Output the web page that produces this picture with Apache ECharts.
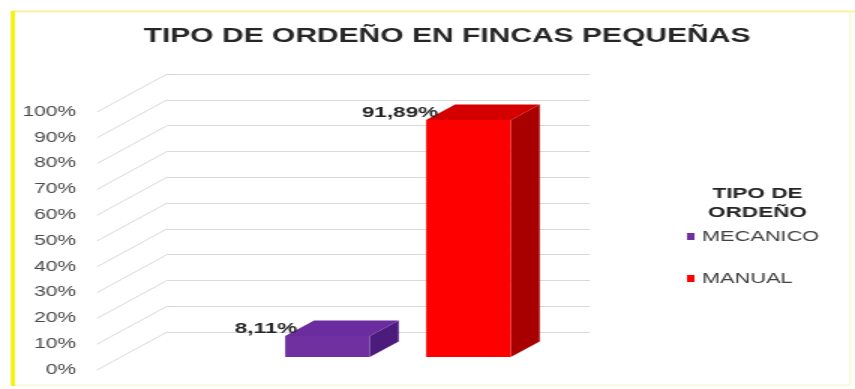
<!DOCTYPE html>
<html>
<head>
<meta charset="utf-8">
<script src="https://cdn.jsdelivr.net/npm/echarts@6/dist/echarts.min.js"></script>
<style>
  html, body { margin: 0; padding: 0; background: #ffffff; overflow: hidden; }
  #wrap { width: 855px; height: 389px; overflow: hidden; }
  #chart { width: 570px; height: 389px; transform: scaleX(1.5); transform-origin: 0 0; }
</style>
</head>
<body>
<div id="wrap"><div id="chart"></div></div>
<script>
// ---- data ----
const categories = ['MECANICO', 'MANUAL'];
const values = [8.11, 91.89];
const yTicks = [0, 10, 20, 30, 40, 50, 60, 70, 80, 90, 100];
const chartTitle = 'TIPO DE ORDEÑO EN FINCAS PEQUEÑAS';
const legendTitle = 'TIPO DE\nORDEÑO';

// ---- styles ----
const FONT = '"Liberation Sans", Arial, sans-serif';
const palette = {
  MECANICO: { front: '#7030A0', top: '#6a2c9e', side: '#4b1c7c' },
  MANUAL:   { front: '#FF0000', top: '#d40000', side: '#a80000' }
};
const DEPTH = [46.7, -38];      // full floor depth (back wall offset)
const BAR_OFF = [16, -13];      // bar front face offset from front plane
const BAR_DEPTH = [19.3, -15.5];

const chart = echarts.init(document.getElementById('chart'), null, { renderer: 'canvas' });

function depthLines(params, api) {
  const p = api.coord([0, api.value(1)]);
  return {
    type: 'line',
    shape: { x1: p[0], y1: p[1], x2: p[0] + DEPTH[0], y2: p[1] + DEPTH[1] },
    style: { stroke: '#d9d9d9', lineWidth: 1 },
    silent: true
  };
}

function fmt(v) { return v.toFixed(2).replace('.', ',') + '%'; }

function barRender(params, api) {
  const idx = api.value(0);
  const v = api.value(1);
  const name = categories[idx];
  const col = palette[name];
  const top = api.coord([idx, v]);
  const base = api.coord([idx, 0]);
  const w = api.size([1, 0])[0] * 0.6;
  const fx = top[0] - w / 2 + BAR_OFF[0];
  const ty = top[1] + BAR_OFF[1];
  const by = base[1] + BAR_OFF[1];
  const dx = BAR_DEPTH[0], dy = BAR_DEPTH[1];
  return {
    type: 'group',
    children: [
      { type: 'polygon', shape: { points: [[fx + w, ty], [fx + w, by], [fx + w + dx, by + dy], [fx + w + dx, ty + dy]] },
        style: { fill: col.side } },
      { type: 'polygon', shape: { points: [[fx, ty], [fx + w, ty], [fx + w + dx, ty + dy], [fx + dx, ty + dy]] },
        style: { fill: col.top } },
      { type: 'rect', shape: { x: fx, y: ty, width: w, height: by - ty },
        style: { fill: col.front } },
      { type: 'text', x: fx + 8, y: ty - 7,
        style: { text: fmt(v), align: 'right', verticalAlign: 'middle',
                 font: 'bold 15px ' + FONT, fill: '#262626' } }
    ]
  };
}

const option = {
  backgroundColor: '#ffffff',
  animation: false,
  title: [
    { text: chartTitle, left: 293, top: 21, textAlign: 'center',
      textStyle: { fontSize: 20, fontWeight: 'bold', color: '#262626', fontFamily: FONT } },
    { text: legendTitle, left: 500, top: 179, textAlign: 'center',
      textStyle: { fontSize: 15, fontWeight: 'bold', color: '#262626', lineHeight: 19, fontFamily: FONT } }
  ],
  legend: {
    data: categories, orient: 'vertical', left: 453, top: 224, itemGap: 27,
    icon: 'rect', itemWidth: 5, itemHeight: 7,
    textStyle: { color: '#404040', fontSize: 14.5, fontFamily: FONT },
    selectedMode: false
  },
  grid: [
    { left: 64.7, top: 112, height: 258, width: 282 },
    { left: 111.3, top: 74, height: 258, width: 282 },
    { left: 155.3, top: 112, height: 258, width: 188 }
  ],
  xAxis: [
    { gridIndex: 0, type: 'value', min: 0, max: 1, show: false },
    { gridIndex: 1, type: 'value', min: 0, max: 1, show: false },
    { gridIndex: 2, type: 'category', data: categories, show: false }
  ],
  yAxis: [
    { gridIndex: 0, type: 'value', min: 0, max: 100, interval: 10,
      axisLine: { show: false }, axisTick: { show: false }, splitLine: { show: false },
      axisLabel: { formatter: function (v) { return v + '%'; }, margin: 14,
                   color: '#4a4a4a', fontSize: 14, fontFamily: FONT } },
    { gridIndex: 1, type: 'value', min: 0, max: 100, interval: 10,
      axisLine: { show: false }, axisTick: { show: false }, axisLabel: { show: false },
      splitLine: { show: true, lineStyle: { color: '#d9d9d9', width: 1 } } },
    { gridIndex: 2, type: 'value', min: 0, max: 100, show: false }
  ],
  graphic: [
    { type: 'rect', shape: { x: 8, y: 11, width: 558.7, height: 374 },
      style: { fill: 'none', stroke: '#fbf8d2', lineWidth: 1.5 }, silent: true, z: 100 },
    { type: 'line', shape: { x1: 8, y1: 11.5, x2: 570, y2: 11.5 },
      style: { stroke: '#f7f48e', lineWidth: 1.5 }, silent: true, z: 100 },
    { type: 'line', shape: { x1: 8.6, y1: 11, x2: 8.6, y2: 386 },
      style: { stroke: '#f2f200', lineWidth: 2.6 }, silent: true, z: 100 }
  ],
  series: [
    { type: 'custom', name: 'depth', xAxisIndex: 0, yAxisIndex: 0, silent: true, z: 1,
      data: yTicks.map(function (t) { return [0, t]; }), renderItem: depthLines },
    { type: 'custom', name: categories[0], xAxisIndex: 2, yAxisIndex: 2, z: 3,
      itemStyle: { color: palette[categories[0]].front },
      data: [[0, values[0]]], renderItem: barRender },
    { type: 'custom', name: categories[1], xAxisIndex: 2, yAxisIndex: 2, z: 3,
      itemStyle: { color: palette[categories[1]].front },
      data: [[1, values[1]]], renderItem: barRender }
  ]
};
chart.setOption(option);
</script>
</body>
</html>
